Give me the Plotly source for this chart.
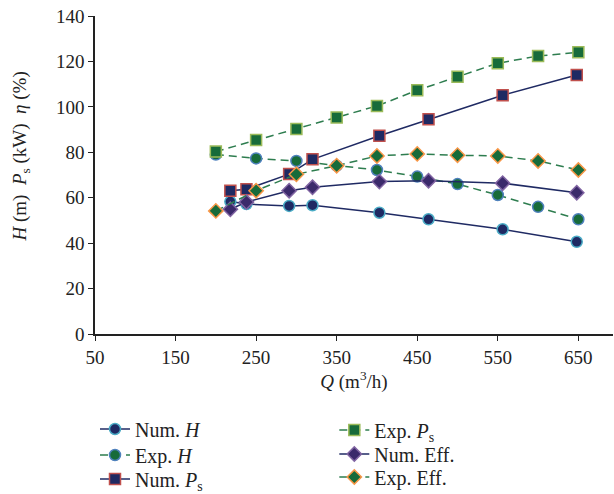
import plotly.graph_objects as go

# Data
q_num = [218, 238, 291, 320, 403, 464, 556, 648]
q_exp = [200, 250, 300, 350, 400, 450, 500, 550, 600, 650]

num_h = [58.3, 57.2, 56.4, 56.7, 53.4, 50.5, 46.1, 40.6]
exp_h = [79, 77.3, 76.2, 74.1, 72.2, 69.3, 66, 61.2, 56, 50.5]
num_ps = [63.1, 63.7, 70.4, 76.9, 87.3, 94.5, 105.1, 114]
exp_ps = [80.3, 85.4, 90.3, 95.3, 100.4, 107.3, 113.2, 119.2, 122.4, 124]
num_eff = [54.9, 58.1, 63.1, 64.6, 67.1, 67.5, 66.4, 62.2]
exp_eff = [54.2, 63.1, 70.3, 74.1, 78.4, 79.3, 78.7, 78.4, 76.2, 72.2]

x_ticks = [50, 150, 250, 350, 450, 550, 650]
y_ticks = [0, 20, 40, 60, 80, 100, 120, 140]

NAVY = "#1F2A63"
GREEN = "#176B3A"
GREEN_LINE = "#2E7D4F"
FONT = "Liberation Serif"

fig = go.Figure()

fig.add_trace(go.Scatter(
    x=q_num, y=num_h, name="Num. <i>H</i>", mode="lines+markers", showlegend=True,
    line=dict(color=NAVY, width=1.5),
    marker=dict(symbol="circle", size=11, color=NAVY, line=dict(color="#4BACC6", width=1.5)),
    legend="legend"))
fig.add_trace(go.Scatter(
    x=q_exp, y=exp_h, name="Exp. <i>H</i>", mode="lines+markers", showlegend=True,
    line=dict(color=GREEN_LINE, width=1.5, dash="8px,5px"),
    marker=dict(symbol="circle", size=11, color=GREEN, line=dict(color="#4F81BD", width=1.5)),
    legend="legend2"))
fig.add_trace(go.Scatter(
    x=q_num, y=num_ps, name="Num. <i>P</i><sub>s</sub>", mode="lines+markers", showlegend=True,
    line=dict(color=NAVY, width=1.5),
    marker=dict(symbol="square", size=11, color=NAVY, line=dict(color="#C0504D", width=1.5)),
    legend="legend3"))
fig.add_trace(go.Scatter(
    x=q_exp, y=exp_ps, name="Exp. <i>P</i><sub>s</sub>", mode="lines+markers", showlegend=True,
    line=dict(color=GREEN_LINE, width=1.5, dash="8px,5px"),
    marker=dict(symbol="square", size=11, color=GREEN, line=dict(color="#9BBB59", width=1.5)),
    legend="legend4"))
fig.add_trace(go.Scatter(
    x=q_num, y=num_eff, name="Num. Eff.", mode="lines+markers", showlegend=True,
    line=dict(color=NAVY, width=1.5),
    marker=dict(symbol="diamond", size=11, color="#3B2A6B", line=dict(color="#8064A2", width=1.5)),
    legend="legend5"))
fig.add_trace(go.Scatter(
    x=q_exp, y=exp_eff, name="Exp. Eff.", mode="lines+markers", showlegend=True,
    line=dict(color=GREEN_LINE, width=1.5, dash="8px,5px"),
    marker=dict(symbol="diamond", size=11, color=GREEN, line=dict(color="#F79646", width=1.5)),
    legend="legend6"))


def leg(xp, yc):
    return dict(x=xp, y=(494 - yc) / 494, xanchor="left", yanchor="middle",
                xref="paper", yref="container", visible=True,
                font=dict(family=FONT, size=20, color="#222"), bgcolor="rgba(0,0,0,0)")


x1 = 0.0
x2 = 0.462
fig.update_layout(
    width=614, height=494, showlegend=True,
    margin=dict(l=95, r=1, t=16, b=160, autoexpand=False),
    paper_bgcolor="white", plot_bgcolor="white",
    font=dict(family=FONT, size=19, color="#222"),
    xaxis=dict(range=[50, 693], tickmode="array", tickvals=x_ticks,
               showline=True, linecolor="#222", linewidth=1.5,
               ticks="outside", ticklen=5, tickcolor="#222", showgrid=False, zeroline=False,
               automargin=False,
               title=dict(text="<i>Q</i> (m<sup>3</sup>/h)", standoff=4, font=dict(size=19))),
    yaxis=dict(range=[0, 140], tickmode="array", tickvals=y_ticks,
               showline=True, linecolor="#222", linewidth=1.5, automargin=False,
               ticks="outside", ticklen=5, tickcolor="#222", showgrid=False, zeroline=False),
    legend=leg(x1, 429),
    legend2=leg(x1, 455),
    legend3=leg(x1, 479),
    legend4=leg(x2, 430),
    legend5=leg(x2, 454),
    legend6=leg(x2, 477),
    annotations=[dict(
        text="<i>H</i> (m)&nbsp;&nbsp;<i>P</i><sub>s</sub> (kW)&nbsp;&nbsp;<i>η</i> (%)",
        xref="paper", yref="paper", x=-0.143, y=0.558, textangle=-90,
        showarrow=False, xanchor="center", yanchor="middle",
        font=dict(family=FONT, size=19, color="#222"))],
)

fig.write_html("out.html")
